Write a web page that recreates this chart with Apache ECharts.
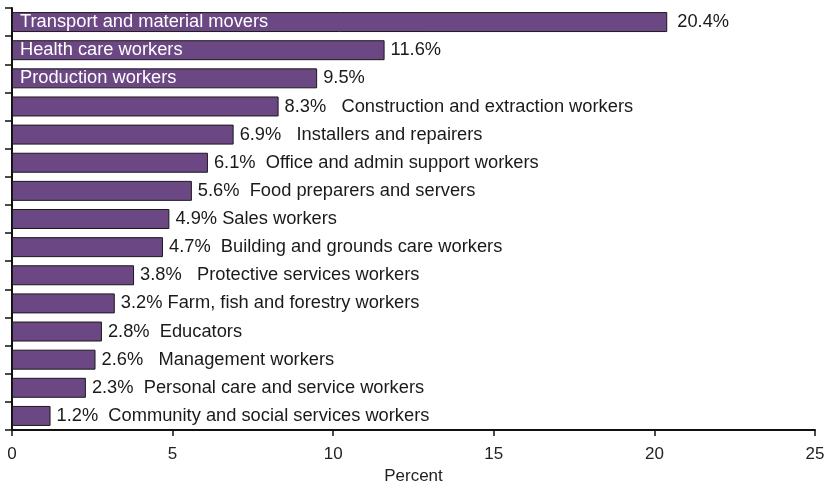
<!DOCTYPE html>
<html>
<head>
<meta charset="utf-8">
<script src="https://cdn.jsdelivr.net/npm/echarts@6/dist/echarts.min.js"></script>
<style>html,body{margin:0;padding:0;background:#fff}#c{width:825px;height:485px}</style>
</head>
<body>
<div id="c"></div>
<script>
var categories = [
  "Transport and material movers",
  "Health care workers",
  "Production workers",
  "Construction and extraction workers",
  "Installers and repairers",
  "Office and admin support workers",
  "Food preparers and servers",
  "Sales workers",
  "Building and grounds care workers",
  "Protective services workers",
  "Farm, fish and forestry workers",
  "Educators",
  "Management workers",
  "Personal care and service workers",
  "Community and social services workers"
];
var values = [20.4, 11.6, 9.5, 8.3, 6.9, 6.1, 5.6, 4.9, 4.7, 3.8, 3.2, 2.8, 2.6, 2.3, 1.2];
var insideCount = 3; // first categories whose names sit inside the bar
var xTicks = [0, 5, 10, 15, 20, 25];
var spaceCounts = [0, 0, 0, 3, 3, 2, 2, 1, 2, 3, 1, 2, 3, 2, 2];

var chart = echarts.init(document.getElementById('c'), null, {renderer: 'canvas'});
var font = '"Liberation Sans", Arial, sans-serif';

chart.setOption({
  animation: false,
  textStyle: {fontFamily: font},
  grid: {left: 12, right: 10, top: 8, bottom: 55, containLabel: false, outerBoundsMode: 'none'},
  xAxis: {
    type: 'value', min: xTicks[0], max: xTicks[xTicks.length - 1], interval: 5,
    splitLine: {show: false},
    axisLine: {show: true, lineStyle: {color: '#111', width: 2}},
    axisTick: {show: true, length: 6, lineStyle: {color: '#111', width: 1.5}},
    axisLabel: {color: '#222', fontSize: 17, margin: 16, fontFamily: font},
    name: 'Percent', nameLocation: 'middle', nameGap: 35,
    nameTextStyle: {color: '#222', fontSize: 17, fontFamily: font}
  },
  yAxis: {
    type: 'category', data: categories, inverse: true,
    axisLine: {show: true, lineStyle: {color: '#111', width: 2}},
    axisTick: {show: true, length: 7, lineStyle: {color: '#111', width: 1.5}},
    axisLabel: {show: false}
  },
  series: [{
    type: 'bar',
    data: values.map(function (v, i) {
      return {value: v, label: {distance: i === 0 ? 10 : 6}};
    }),
    barCategoryGap: '29%',
    itemStyle: {color: '#6b4784', borderColor: '#1a1a1a', borderWidth: 1},
    label: {
      show: true, position: 'right', color: '#1a1a1a', fontSize: 18.3, fontFamily: font,
      formatter: function (p) {
        var s = p.value.toFixed(1) + '%';
        if (p.dataIndex >= insideCount) {
          s += new Array(spaceCounts[p.dataIndex] + 1).join(' ') + categories[p.dataIndex];
        }
        return s;
      }
    },
    z: 2
  }, {
    type: 'bar',
    data: values,
    barGap: '-100%',
    barCategoryGap: '29%',
    itemStyle: {color: 'rgba(0,0,0,0)'},
    label: {
      show: true, position: 'insideLeft', distance: 8, color: '#fff', fontSize: 18.3, fontFamily: font,
      formatter: function (p) {
        return p.dataIndex < insideCount ? categories[p.dataIndex] : '';
      }
    },
    silent: true,
    z: 3
  }]
});
</script>
</body>
</html>
